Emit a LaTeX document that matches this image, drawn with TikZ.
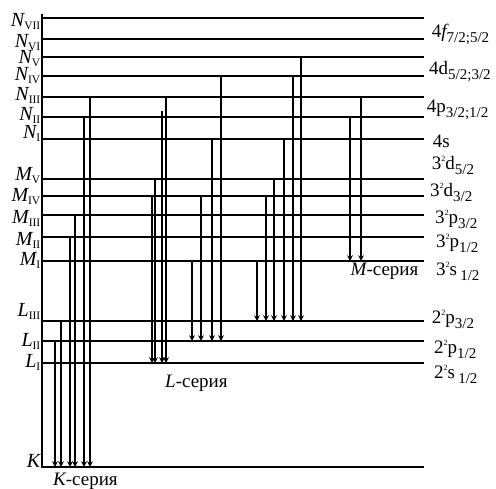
\documentclass[tikz,border=0pt]{standalone}
\usepackage{fontspec}
\setmainfont{Liberation Serif}
\newcommand{\lvl}[2]{{\itshape #1}\raisebox{-3pt}{\fontsize{11.5}{11.5}\selectfont #2}}
\newcommand{\subtx}[1]{\raisebox{-5pt}{\fontsize{15}{15}\selectfont #1}}
\newcommand{\suptx}[1]{\raisebox{7.5pt}{\fontsize{8}{8}\selectfont #1}}
\tikzset{
  shell/.style={line width=2pt},
  trans/.style={->, line width=1.5pt},
  lbl/.style={inner sep=0pt, font=\fontsize{19}{19}\selectfont},
  side/.style={inner sep=0pt, font=\fontsize{20}{20}\selectfont},
}
\begin{document}
\begin{tikzpicture}[x=1pt, y=-1pt, >=stealth]
  \useasboundingbox (0,0) rectangle (496,488);
  % エネルギー準位
  \foreach \n/\y in {NVII/18, NVI/39, NV/57, NIV/76, NIII/97, NII/117, NI/139,
      MV/179, MIV/196, MIII/215, MII/237, MI/261, LIII/321, LII/341, LI/363, K/467}
    {\coordinate (\n) at (42,\y);
     \draw[shell] (\n) -- ++(382,0);}
  \coordinate (NIIup) at (42,111);
  % 縦軸
  \coordinate (top) at (42,14);
  \draw[shell] (top) -- ([yshift=-1pt]K);
  % 準位の記号
  \foreach \n/\l/\s/\b in {NVII/N/VII/26, NVI/N/VI/47, NV/N/V/63, NIV/N/IV/80, NIII/N/III/100,
      NII/N/II/120, NI/N/I/138, MV/M/V/180, MIV/M/IV/201.7, MIII/M/III/223, MII/M/II/245,
      MI/M/I/265, LIII/L/III/316, LII/L/II/346.7, LI/L/I/367, K/K//467}
    \node[side, anchor=base east] (lab\n) at (40.5,\b) {\lvl{\l}{\s}};
  % 電子状態
  \node[lbl, anchor=base west] (t4f) at (431.7,37) {4{\itshape f}\subtx{7/2;5/2}};
  \node[lbl, anchor=base west] (t4d) at (429,74) {4d\subtx{5/2;3/2}};
  \node[lbl, anchor=base west] (t4p) at (426.7,112) {4p\subtx{3/2;1/2}};
  \node[lbl, anchor=base west] (t4s) at (432.7,147) {4s};
  \node[lbl, anchor=base west] (t3d5) at (431.7,169) {3\suptx{2}d\subtx{5/2}};
  \node[lbl, anchor=base west] (t3d3) at (430,196) {3\suptx{2}d\subtx{3/2}};
  \node[lbl, anchor=base west] (t3p3) at (435,223) {3\suptx{2}p\subtx{3/2}};
  \node[lbl, anchor=base west] (t3p1) at (436,247) {3\suptx{2}p\subtx{1/2}};
  \node[lbl, anchor=base west] (t3s) at (436,275) {3\suptx{2}s\,\subtx{1/2}};
  \node[lbl, anchor=base west] (t2p3) at (431.7,323) {2\suptx{2}p\subtx{3/2}};
  \node[lbl, anchor=base west] (t2p1) at (434,353) {2\suptx{2}p\subtx{1/2}};
  \node[lbl, anchor=base west] (t2s) at (434,378) {2\suptx{2}s\,\subtx{1/2}};
  % 遷移
  \foreach \x/\a/\b in {55/LII/K, 61/LIII/K, 70/MII/K, 75/MIII/K, 84/NII/K, 90/NIII/K,
      152/MIV/LI, 155/MV/LI, 162/NIIup/LI, 166/NIII/LI,
      192/MI/LII, 201/MIV/LII, 212/NI/LII, 221/NIV/LII,
      257/MI/LIII, 266/MIV/LIII, 274/MV/LIII, 284/NI/LIII, 293/NIV/LIII, 301/NV/LIII,
      350/NII/MI, 361/NIII/MI}
    \draw[trans] (\x,0 |- \a) -- (\x,0 |- \b);
  % 系列の名前
  \node[lbl, anchor=base west] (kser) at (53,485) {{\itshape K}-серия};
  \node[lbl, anchor=base west] (lser) at (165,387) {{\itshape L}-серия};
  \node[lbl, anchor=base west] (mser) at (350.5,275) {{\itshape M}-серия};
\end{tikzpicture}
\end{document}
